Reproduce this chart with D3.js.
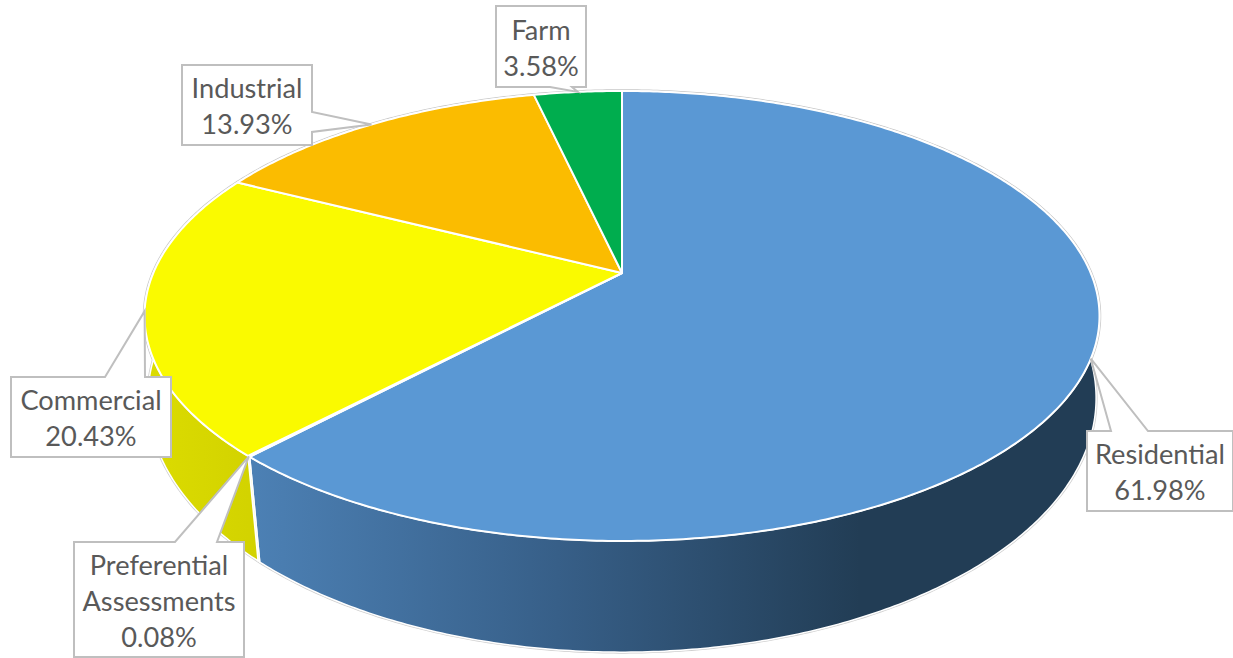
<!DOCTYPE html>
<html>
<head>
<meta charset="utf-8">
<script src="https://cdn.jsdelivr.net/npm/d3@7"></script>
<style>
  html, body { margin: 0; padding: 0; background: #fff; overflow: hidden; }
  svg { display: block; }
  text { font-family: Lato, sans-serif; font-size: 27.2px; fill: #595959; text-anchor: middle; }
</style>
</head>
<body>
<svg id="chart" width="1233" height="658"></svg>
<script>
/* CHART DATA */
var categories = ['Residential', 'Preferential Assessments', 'Commercial', 'Industrial', 'Farm'];
var shares = [61.98, 0.08, 20.43, 13.93, 3.58];
var shareLabels = ['61.98%', '0.08%', '20.43%', '13.93%', '3.58%'];
var labelLines = [['Residential'], ['Preferential', 'Assessments'], ['Commercial'], ['Industrial'], ['Farm']];

/* STYLES */
var topColors = ['#5a98d4', '#fafa00', '#fafa00', '#fbbc00', '#00ad4e'];
var sideColors = ['url(#residentialSide)', '#d6d600', 'url(#commercialSide)', '#c99600', '#008a3e'];

/* CALLOUT BOXES: x0, y0, x1, y1, which side the pointer leaves from, pointer base start and end */
var boxes = [
  { x0: 1087, y0: 431, x1: 1233, y1: 511, side: 'top', a: 1111, b: 1148 },
  { x0: 74, y0: 542, x1: 244, y1: 657, side: 'top', a: 175, b: 217 },
  { x0: 11, y0: 377, x1: 171, y1: 457, side: 'top', a: 105, b: 145 },
  { x0: 182, y0: 65, x1: 312, y1: 145, side: 'right', a: 112, b: 132 },
  { x0: 496, y0: 6, x1: 586, y1: 87, side: 'bottom', a: 550, b: 572 }
];

/* THE PIE LIES IN PERSPECTIVE: THE CENTRE SITS ABOVE THE MIDDLE OF THE ELLIPSE */
var topRim = { x0: 622, y0: 273, a: 468.7, b: 216.8, k: 0.191 };
var lowRim = { x0: 622, y0: 357.5, a: 468, b: 247.5, k: 0.16 };

function project(rim, angle) {
  var u = Math.sin(angle), v = -Math.cos(angle);
  var d = 1 - rim.k * v;
  return [rim.x0 + rim.a * u / d, rim.y0 + rim.b * v / d];
}

function arcPoints(rim, start, end) {
  var n = Math.max(2, Math.ceil((end - start) / 0.01));
  return d3.range(n + 1).map(function(i) {
    return project(rim, start + (end - start) * i / n);
  });
}

var pie = d3.pie().sort(null).value(function(d) { return d; });
var slices = pie(shares);
var line = d3.line();
var svg = d3.select('#chart');

/* GRADIENTS FOR THE VISIBLE WALL */
var defs = svg.append('defs');
var blue = defs.append('linearGradient').attr('id', 'residentialSide')
  .attr('gradientUnits', 'userSpaceOnUse')
  .attr('x1', 255).attr('x2', 860).attr('y1', 0).attr('y2', 0);
blue.append('stop').attr('offset', 0).attr('stop-color', '#4c80b4');
blue.append('stop').attr('offset', 0.5).attr('stop-color', '#375f88');
blue.append('stop').attr('offset', 1).attr('stop-color', '#223d55');
var yellow = defs.append('linearGradient').attr('id', 'commercialSide')
  .attr('gradientUnits', 'userSpaceOnUse')
  .attr('x1', 145).attr('x2', 260).attr('y1', 0).attr('y2', 0);
yellow.append('stop').attr('offset', 0).attr('stop-color', '#dcdc00');
yellow.append('stop').attr('offset', 1).attr('stop-color', '#d2d200');

/* OUTER SILHOUETTE */
var fullTurn = 2 * Math.PI;
svg.append('path').attr('d', line(arcPoints(lowRim, 0, fullTurn)) + 'Z')
  .attr('fill', '#fff').attr('stroke', '#cfcfcf').attr('stroke-width', 3);
svg.append('path').attr('d', line(arcPoints(topRim, 0, fullTurn)) + 'Z')
  .attr('fill', '#fff').attr('stroke', '#c8c8c8').attr('stroke-width', 3.5);

/* WALLS */
svg.selectAll('path.wall').data(slices).enter().append('path')
  .attr('class', 'wall')
  .attr('d', function(d) {
    var upper = arcPoints(topRim, d.startAngle, d.endAngle);
    var lower = arcPoints(lowRim, d.startAngle, d.endAngle).reverse();
    return line(upper.concat(lower)) + 'Z';
  })
  .attr('fill', function(d, i) { return sideColors[i]; })
  .attr('stroke', '#fff').attr('stroke-width', 1.5).attr('stroke-linejoin', 'round');

/* TOP FACE */
svg.selectAll('path.face').data(slices).enter().append('path')
  .attr('class', 'face')
  .attr('d', function(d) {
    var rim = arcPoints(topRim, d.startAngle, d.endAngle);
    return line([[topRim.x0, topRim.y0]].concat(rim)) + 'Z';
  })
  .attr('fill', function(d, i) { return topColors[i]; })
  .attr('stroke', '#fff').attr('stroke-width', 2).attr('stroke-linejoin', 'round');

/* CALLOUTS */
function calloutPath(box, tip) {
  var pts;
  if (box.side === 'top') {
    pts = [[box.x0, box.y0], [box.a, box.y0], tip, [box.b, box.y0], [box.x1, box.y0], [box.x1, box.y1], [box.x0, box.y1]];
  } else if (box.side === 'right') {
    pts = [[box.x0, box.y0], [box.x1, box.y0], [box.x1, box.a], tip, [box.x1, box.b], [box.x1, box.y1], [box.x0, box.y1]];
  } else {
    pts = [[box.x0, box.y0], [box.x1, box.y0], [box.x1, box.y1], [box.b, box.y1], tip, [box.a, box.y1], [box.x0, box.y1]];
  }
  return line(pts) + 'Z';
}

var callouts = svg.selectAll('g.callout').data(slices).enter().append('g').attr('class', 'callout');

callouts.append('path')
  .attr('d', function(d, i) {
    return calloutPath(boxes[i], project(topRim, (d.startAngle + d.endAngle) / 2));
  })
  .attr('fill', '#fff').attr('stroke', '#bfbfbf').attr('stroke-width', 2);

callouts.each(function(d, i) {
  var box = boxes[i];
  var rows = labelLines[i].concat(shareLabels[i]);
  var first = (box.y0 + box.y1) / 2 - rows.length * 18 + 29;
  d3.select(this).selectAll('text').data(rows).enter().append('text')
    .attr('x', (box.x0 + box.x1) / 2)
    .attr('y', function(r, n) { return first + n * 36; })
    .text(function(r) { return r; });
});
</script>
</body>
</html>
